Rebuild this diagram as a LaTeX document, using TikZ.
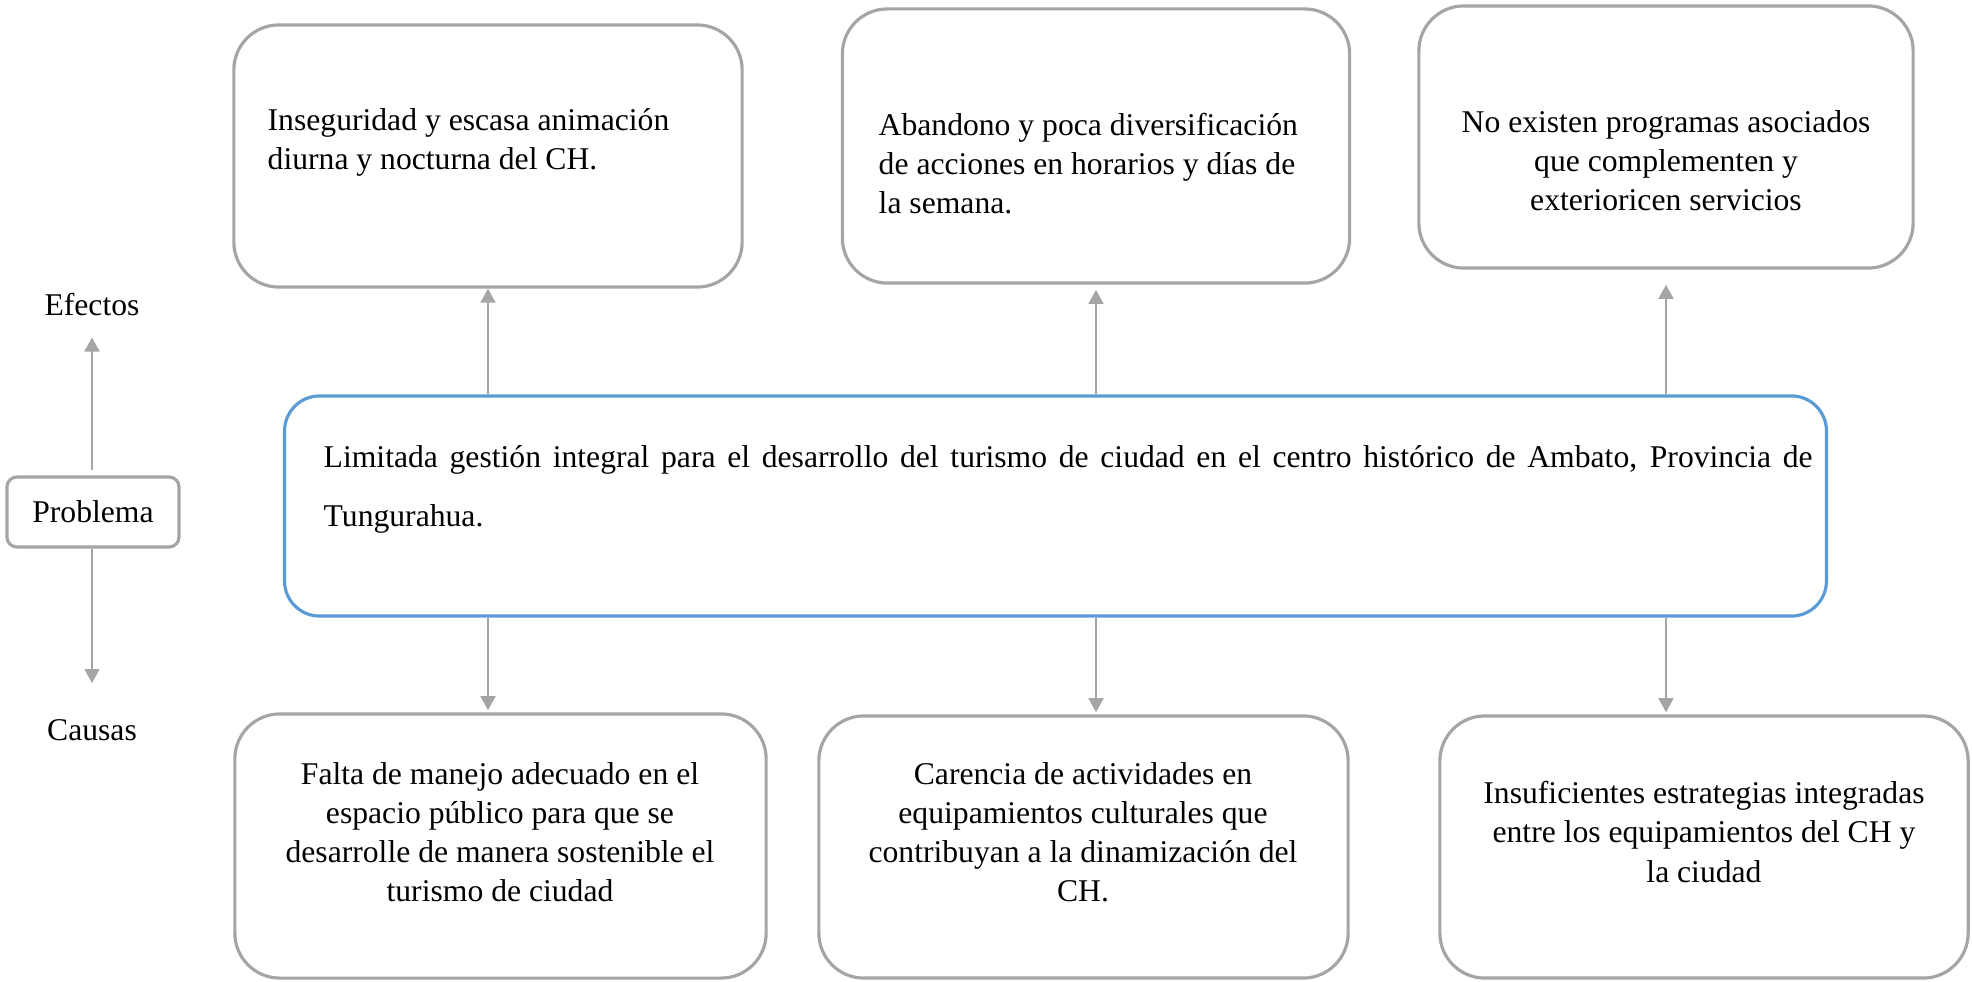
\documentclass[tikz,border=0pt]{standalone}
\usepackage{fontspec}
\setmainfont{Liberation Serif}
\usetikzlibrary{arrows.meta}
\definecolor{treegray}{HTML}{A5A5A5}
\definecolor{treeblue}{HTML}{5B9BD5}

\begin{document}
\begin{tikzpicture}[x=0.01cm, y=-0.01cm, font=\fontsize{9}{11.1}\selectfont,
  tree box/.style={draw=treegray, line width=0.9pt, rounded corners=0.45cm, inner sep=0pt},
  tree text/.style={inner sep=0pt},
  tree arrow/.style={draw=treegray, line width=0.5pt, -{Triangle[length=0.14cm,width=0.15cm]}}]
\useasboundingbox (0,0) rectangle (1972,982);
% problema central
\node [tree box, draw=treeblue, rounded corners=0.35cm, minimum width=15.41cm, minimum height=2.2cm] (prob) at (1055.5,506) {};
\node [tree text, anchor=north west, text width=14.88cm, align=justify, font=\fontsize{9}{16.8}\selectfont] (probtxt) at (323,445)
  {Limitada gestión integral para el desarrollo del turismo de ciudad en el centro histórico de Ambato, Provincia de\linebreak Tungurahua.};
% efectos
\node [tree box, minimum width=5.08cm, minimum height=2.62cm] (e1) at (488,156) {};
\node [tree box, minimum width=5.07cm, minimum height=2.74cm] (e2) at (1096,146) {};
\node [tree box, minimum width=4.94cm, minimum height=2.62cm] (e3) at (1666,137) {};
\node [tree text, anchor=west, align=left] (e1txt) at (267,142) {Inseguridad y escasa animación\\diurna y nocturna del CH.};
\node [tree text, anchor=west, align=left] (e2txt) at (878,164) {Abandono y poca diversificación\\de acciones en horarios y días de\\la semana.};
\node [tree text, align=center] (e3txt) at (1666,161) {No existen programas asociados\\que complementen y\\exterioricen servicios};
% causas
\node [tree box, minimum width=5.31cm, minimum height=2.64cm] (c1) at (500.5,846) {};
\node [tree box, minimum width=5.29cm, minimum height=2.62cm] (c2) at (1083.5,847) {};
\node [tree box, minimum width=5.28cm, minimum height=2.62cm] (c3) at (1704,847) {};
\node [tree text, align=center] (c1txt) at (500,832) {Falta de manejo adecuado en el\\espacio público para que se\\desarrolle de manera sostenible el\\turismo de ciudad};
\node [tree text, align=center] (c2txt) at (1083,832) {Carencia de actividades en\\equipamientos culturales que\\contribuyan a la dinamización del\\CH.};
\node [tree text, align=center] (c3txt) at (1704,832) {Insuficientes estrategias integradas\\entre los equipamientos del CH y\\la ciudad};
% leyenda
\node (efectos) at (92,305) {Efectos};
\node [tree box, rounded corners=0.1cm, minimum width=1.72cm, minimum height=0.7cm] (problema) at (93,512) {Problema};
\node (causas) at (92,730) {Causas};
\path
    (problema.north -| efectos) edge [tree arrow, shorten <=1.5pt, shorten >=2.5pt] (efectos)
    (problema.south -| causas) edge [tree arrow, shorten >=6.8pt] (causas)
    (e1.south |- prob.north) edge [tree arrow] (e1.south)
    (e2.south |- prob.north) edge [tree arrow, shorten >=1.5pt] (e2.south)
    (e3.south |- prob.north) edge [tree arrow, shorten >=4.3pt] (e3.south)
    (e1.south |- prob.south) edge [tree arrow, shorten >=0.6pt] (e1.south |- c1.north)
    (e2.south |- prob.south) edge [tree arrow, shorten >=0.6pt] (e2.south |- c2.north)
    (e3.south |- prob.south) edge [tree arrow, shorten >=0.6pt] (e3.south |- c3.north)
    ;
\end{tikzpicture}
\end{document}
